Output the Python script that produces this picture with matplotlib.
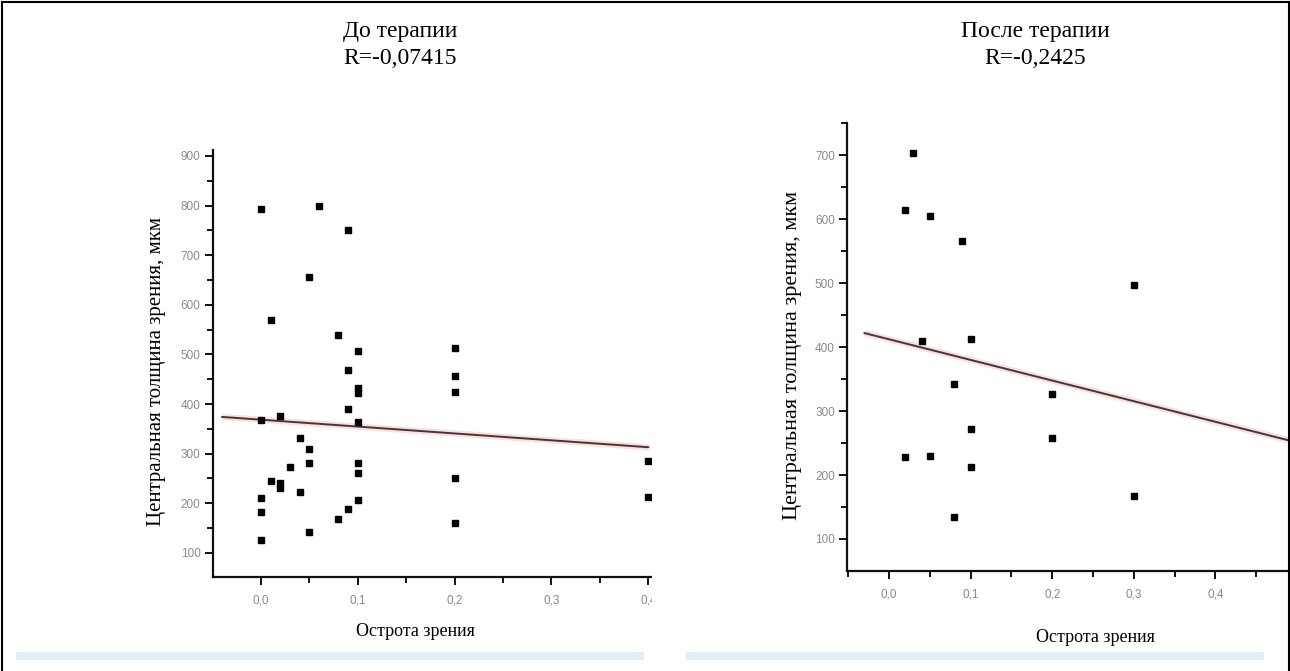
import matplotlib
matplotlib.use("Agg")
import matplotlib.pyplot as plt
from matplotlib.ticker import MultipleLocator, FuncFormatter
from matplotlib.lines import Line2D

# ---------------- data ----------------
before_x = [0.0, 0.0, 0.0, 0.0, 0.0,
            0.01, 0.01,
            0.02, 0.02, 0.02,
            0.03,
            0.04, 0.04,
            0.05, 0.05, 0.05, 0.05,
            0.06,
            0.08, 0.08,
            0.09, 0.09, 0.09, 0.09,
            0.1, 0.1, 0.1, 0.1, 0.1, 0.1, 0.1,
            0.2, 0.2, 0.2, 0.2, 0.2,
            0.4, 0.4]
before_y = [793, 367, 210, 182, 126,
            570, 244,
            375, 240, 231,
            273,
            331, 222,
            656, 310, 282, 142,
            800,
            540, 169,
            750, 469, 391, 188,
            506, 433, 422, 364, 282, 260, 206,
            513, 456, 424, 251, 161,
            286, 212]
before_fit_x = [-0.04, 0.4]
before_fit_y = [374, 313]

after_x = [0.02, 0.02, 0.03, 0.04, 0.05, 0.05, 0.08, 0.08, 0.09,
           0.1, 0.1, 0.1, 0.2, 0.2, 0.3, 0.3]
after_y = [614, 228, 704, 410, 605, 229, 343, 134, 566,
           413, 272, 212, 327, 258, 497, 167]
after_fit_x = [-0.03, 0.5]
after_fit_y = [422, 251]

titles = ["До терапии\nR=-0,07415", "После терапии\nR=-0,2425"]
xlabel = "Острота зрения"
ylabel = "Центральная толщина зрения, мкм"

# ---------------- figure ----------------
W, H = 1290, 671
fig = plt.figure(figsize=(W / 100, H / 100), dpi=100)
fig.patch.set_facecolor("white")

SERIF = ["Liberation Serif", "DejaVu Serif"]
SANS = ["Liberation Sans", "DejaVu Sans"]


def px_axes(x0, x1, ytop, ybot):
    return fig.add_axes([x0 / W, 1 - ybot / H, (x1 - x0) / W, (ybot - ytop) / H])


def style(ax, xlim, ylim):
    ax.set_xlim(*xlim)
    ax.set_ylim(*ylim)
    ax.set_facecolor("none")
    for s in ("top", "right"):
        ax.spines[s].set_visible(False)
    for s in ("left", "bottom"):
        ax.spines[s].set_linewidth(1.6)
        ax.spines[s].set_color("#111111")
    ax.xaxis.set_major_locator(MultipleLocator(0.1))
    ax.xaxis.set_minor_locator(MultipleLocator(0.05))
    ax.yaxis.set_major_locator(MultipleLocator(100))
    ax.yaxis.set_minor_locator(MultipleLocator(50))
    ax.xaxis.set_major_formatter(FuncFormatter(lambda v, p: f"{v:.1f}".replace(".", ",")))
    ax.yaxis.set_major_formatter(FuncFormatter(lambda v, p: f"{int(round(v))}"))
    ax.tick_params(which="major", length=6, width=1.4, color="#111111",
                   labelsize=8.5, labelcolor="#8a8a8a")
    ax.tick_params(axis="y", which="major", pad=3)
    ax.tick_params(axis="x", which="major", pad=7)
    ax.tick_params(which="minor", length=4, width=1.4, color="#111111")
    for lab in ax.get_xticklabels() + ax.get_yticklabels():
        lab.set_family(SANS)


def draw(ax, xs, ys, fx, fy):
    ax.plot(fx, fy, color="#f2cccc", lw=4.5, alpha=0.6, solid_capstyle="butt", zorder=2)
    ax.plot(fx, fy, color="#4d3333", lw=1.4, zorder=3)
    ax.plot(xs, ys, ls="none", marker="s", ms=4.6, color="black", zorder=4, clip_on=True)


# left panel
L_x0, L_x1, L_top, L_bot = 213, 650.5, 150, 576.7
axL = px_axes(L_x0, L_x1, L_top, L_bot)
style(axL, (-0.0495, 0.4023), (52, 912))
draw(axL, before_x, before_y, before_fit_x, before_fit_y)
axL.set_xlabel(xlabel, family=SERIF, fontsize=13)
axL.set_ylabel(ylabel, family=SERIF, fontsize=15)
axL.xaxis.set_label_coords((415 - L_x0) / (L_x1 - L_x0), -(632 - L_bot) / (L_bot - L_top))
axL.yaxis.set_label_coords(-(L_x0 - 157) / (L_x1 - L_x0), (L_bot - 372) / (L_bot - L_top))
axL.xaxis.label.set_va("center")
axL.yaxis.label.set_va("center")

# right panel
R_x0, R_x1, R_top, R_bot = 847.3, 1300, 122.7, 570.7
axR = px_axes(R_x0, R_x1, R_top, R_bot)
style(axR, (-0.0511, 0.5037), (50.4, 751))
draw(axR, after_x, after_y, after_fit_x, after_fit_y)
axR.set_xlabel(xlabel, family=SERIF, fontsize=13)
axR.set_ylabel(ylabel, family=SERIF, fontsize=16)
axR.xaxis.set_label_coords((1095 - R_x0) / (R_x1 - R_x0), -(637 - R_bot) / (R_bot - R_top))
axR.yaxis.set_label_coords(-(R_x0 - 792) / (R_x1 - R_x0), (R_bot - 355) / (R_bot - R_top))
axR.xaxis.label.set_va("center")
axR.yaxis.label.set_va("center")

# crop mask on the right of the left picture
fig.add_artist(plt.Rectangle((652 / W, 1 - 615 / H), 60 / W, 480 / H,
                             transform=fig.transFigure, facecolor="white",
                             edgecolor="none", zorder=10))

# titles
fig.text(400 / W, 1 - 45 / H, titles[0], ha="center", va="center",
         family=SERIF, fontsize=17, linespacing=1.4)
fig.text(1035 / W, 1 - 45 / H, titles[1], ha="center", va="center",
         family=SERIF, fontsize=17, linespacing=1.4)

# table frame
frame_kw = dict(color="black", lw=1.5, transform=fig.transFigure, zorder=20)
fig.add_artist(Line2D([1.5 / W, 1288.5 / W], [1 - 1.5 / H, 1 - 1.5 / H], **frame_kw))
fig.add_artist(Line2D([1.5 / W, 1.5 / W], [0, 1 - 1.5 / H], **frame_kw))
fig.add_artist(Line2D([1288.5 / W, 1288.5 / W], [0, 1 - 1.5 / H], **frame_kw))

# faint band near bottom
fig.add_artist(Line2D([20 / W, 640 / W], [1 - 656 / H, 1 - 656 / H],
                      color="#e6eef7", lw=6, transform=fig.transFigure, zorder=1))
fig.add_artist(Line2D([690 / W, 1260 / W], [1 - 656 / H, 1 - 656 / H],
                      color="#e6eef7", lw=6, transform=fig.transFigure, zorder=1))

fig.savefig("out.png", dpi=100, facecolor="white")
